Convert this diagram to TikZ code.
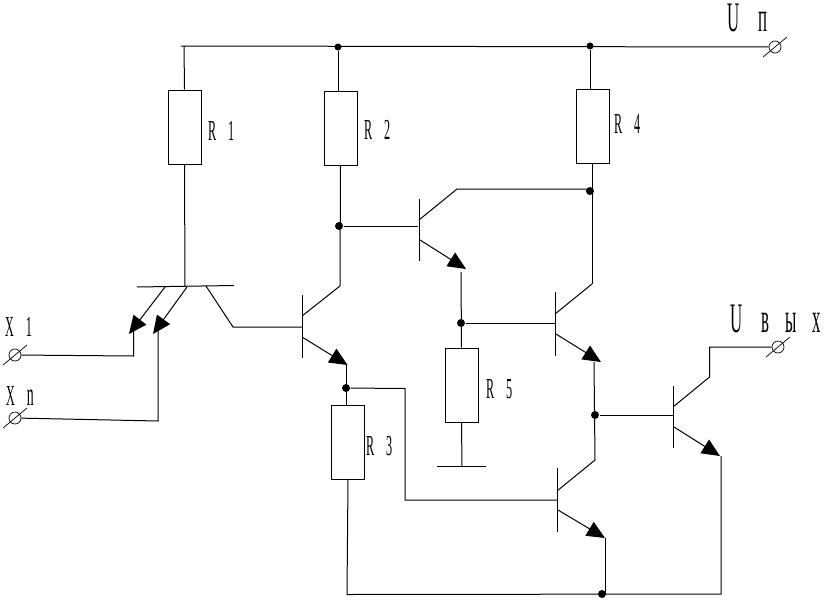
\documentclass[tikz,border=0pt]{standalone}
\usepackage{fontspec}
\setmainfont{Liberation Serif}
\usetikzlibrary{arrows.meta}
\newcommand\lblfont{\fontsize{29}{29}\selectfont\spaceskip 28pt\relax}
\newcommand\biglblfont{\fontsize{42}{42}\selectfont\spaceskip 47pt\relax}

\begin{document}
\begin{tikzpicture}[x=1pt,y=-1pt,line width=1pt]
\useasboundingbox (0,0) rectangle (833,600);
\tikzstyle{res}=[draw,rectangle,minimum width=33pt,minimum height=74pt,inner sep=0pt];
\tikzstyle{dot}=[circle,fill=black,minimum size=8pt,inner sep=0pt];
\tikzstyle{term}=[draw,circle,minimum size=12pt,inner sep=0pt,line width=0.7pt];
\tikzstyle{lbl}=[anchor=base west,inner sep=0pt,xscale=0.42,font=\lblfont];
\tikzstyle{biglbl}=[anchor=base west,inner sep=0pt,xscale=0.4,font=\biglblfont];
\tikzstyle{emit}=[-{Triangle[length=18pt,width=16pt]}];
% resistors
\node[res] (r1) at (184.5,127) {};
\node[res] (r2) at (340.5,128.5) {};
\node[res] (r3) at (348,442) {};
\node[res] (r4) at (592.5,126) {};
\node[res] (r5) at (461.5,385) {};
% junctions
\node[dot,minimum size=7pt] (j1) at (338,47) {};
\node[dot,minimum size=7pt] (j2) at (590,46) {};
\node[dot] (j3) at (339,226) {};
\node[dot] (j4) at (590,191) {};
\node[dot] (j5) at (461,323) {};
\node[dot] (j6) at (346,388) {};
\node[dot] (j7) at (595,415) {};
\node[dot] (j8) at (602,594) {};
% terminals
\node[term] (tu) at (775,47) {};
\node[term] (tv) at (778,347) {};
\node[term] (tx1) at (15,355) {};
\node[term] (txn) at (15,418) {};
\foreach \t in {tu,tv,tx1,txn}
\draw[line width=0.7pt] ([shift={(-12,10)}]\t.center) -- ([shift={(12,-10)}]\t.center);
% input transistor
\coordinate (m0) at (137,287);
\coordinate (m1) at (234,285.5);
\coordinate (mr) at (185,286);
\coordinate (e1) at (165,287);
\coordinate (e1t) at (129,334);
\coordinate (e2) at (187,287);
\coordinate (e2t) at (153,334);
\coordinate (e3) at (206,286);
\coordinate (e3k) at (233,327);
\coordinate (w1) at (133.5,331);
\coordinate (w1k) at (133.5,356);
\coordinate (w2) at (158,328);
\coordinate (w2k) at (158,421);
\draw (m0) -- (m1);
\draw[emit] (e1) -- (e1t);
\draw[emit] (e2) -- (e2t);
\draw (tx1) -- (w1k) -- (w1);
\draw (txn) -- (w2k) -- (w2);
\draw (e3) -- (e3k) -- (302,327);
% transistor bars
\coordinate (b1a) at (302,295);
\coordinate (b1b) at (302,358);
\coordinate (b2a) at (419,199);
\coordinate (b2b) at (419,261);
\coordinate (b3a) at (555,292);
\coordinate (b3b) at (555,356);
\coordinate (b4a) at (673,386);
\coordinate (b4b) at (673,448);
\coordinate (b5a) at (557,468);
\coordinate (b5b) at (557,532);
\draw (b1a) -- (b1b)
(b2a) -- (b2b)
(b3a) -- (b3b)
(b4a) -- (b4b)
(b5a) -- (b5b);
% emitters
\coordinate (q1e) at (347.5,365);
\coordinate (q2e) at (466,269);
\coordinate (q3e) at (601,362);
\coordinate (q4e) at (720,456);
\coordinate (q5e) at (605,538);
\draw[emit] (302,337) -- (q1e);
\draw[emit] (420,240) -- (q2e);
\draw[emit] (556,334) -- (q3e);
\draw[emit] (674,427) -- (q4e);
\draw[emit] (558,510) -- (q5e);
% collectors
\coordinate (q1c) at (340,286);
\coordinate (q2c) at (457,189);
\coordinate (q3c) at (592,284);
\coordinate (q4c) at (709.5,377);
\coordinate (q4k) at (709.5,347);
\coordinate (q5c) at (595,460);
\draw (302,316) -- (q1c);
\draw (419,220) -- (q2c) -- (590,189);
\draw (555,314) -- (q3c);
\draw (673,407) -- (q4c) -- (q4k) -- (tv);
\draw (557,491) -- (q5c);
% wires
\coordinate (rl) at (181,46);
\coordinate (r1t) at (184,46);
\coordinate (k1) at (405,388.5);
\coordinate (k2) at (405,500);
\coordinate (k3) at (557,500);
\coordinate (q2o) at (461,272);
\coordinate (q3o) at (594,362);
\coordinate (q4o) at (721,456);
\coordinate (q5o) at (605,538);
\coordinate (bl) at (347,594.5);
\coordinate (br) at (721,594);
\coordinate (g0) at (437,466);
\coordinate (g1) at (486,466);
\coordinate (gm) at (462,466);
\draw (rl) -- (tu);
\draw (r1t) -- (r1.north);
\draw (r1.south) -- (mr);
\draw (j1) -- (338,91);
\draw (r2.south) -- (q1c);
\draw (j2) -- (590,89);
\draw (592,163) -- (q3c);
\draw (j3) -- (418,226);
\draw (q2o) -- (r5.north);
\draw (j5) -- (555,323);
\draw (r5.south) -- (gm);
\draw (g0) -- (g1);
\draw (346,365) -- (r3.north -| j6);
\draw (j6) -- (k1) -- (k2) -- (k3);
\draw (q3o) -- (q5c);
\draw (j7) -- (673,415);
\draw (r3.south) -- (bl) -- (br) -- (q4o);
\draw (q5o) -- (605,594);
% labels
\node[lbl] (l1) at (208,140) {R 1};
\node[lbl] (l2) at (364,139) {R 2};
\node[lbl] (l3) at (366,455) {R 3};
\node[lbl] (l4) at (614,133) {R 4};
\node[lbl] (l5) at (486,398) {R 5};
\node[lbl] (lx1) at (5,336) {X 1};
\node[lbl] (lxn) at (6,405) {X {\fontsize{33}{33}\selectfont n}};
\node[biglbl] (lu) at (727,31) {U п};
\node[biglbl] (lv) at (730,332) {U {\addfontfeature{LetterSpace=95}вых}};
\end{tikzpicture}
\end{document}
